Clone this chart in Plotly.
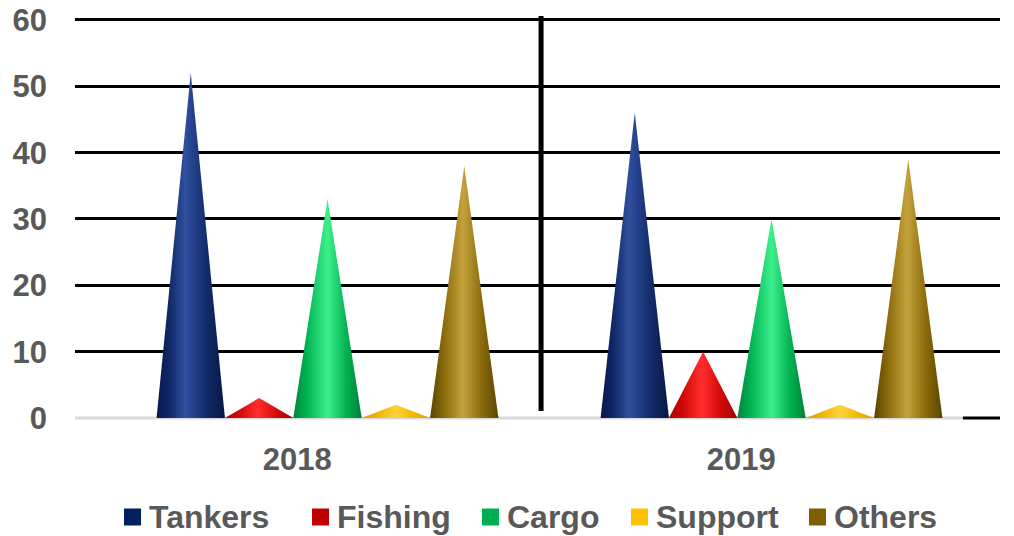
import plotly.graph_objects as go

categories = ["2018", "2019"]
series_names = ["Tankers", "Fishing", "Cargo", "Support", "Others"]
tankers = [52, 46]
fishing = [3, 10]
cargo = [33, 30]
support = [2, 2]
others = [38, 39]
y_ticks = [0, 10, 20, 30, 40, 50, 60]

series_values = [tankers, fishing, cargo, support, others]
legend_colors = ["#002060", "#C00000", "#00B050", "#FFC000", "#7F6000"]
cone_scales = [
    [[0, "#07184a"], [0.18, "#0f2766"], [0.42, "#2f4f9f"], [0.72, "#132d6c"], [1, "#061744"]],
    [[0, "#a80000"], [0.2, "#d00808"], [0.48, "#ff2e2e"], [0.75, "#d40a0a"], [1, "#a00000"]],
    [[0, "#00853a"], [0.2, "#00b452"], [0.5, "#3ef08c"], [0.78, "#00b050"], [1, "#00803a"]],
    [[0, "#d9a000"], [0.25, "#f0b800"], [0.5, "#ffd23c"], [0.75, "#f2bb00"], [1, "#d8a000"]],
    [[0, "#5a4300"], [0.2, "#8a6a0a"], [0.48, "#c4a23c"], [0.75, "#8c6c0c"], [1, "#5c4400"]],
]

n = len(series_names)
step = 0.154          # spacing between cones, in category units
half = step / 2       # half width of a cone base
label_shift = -0.068  # category label offset

fig = go.Figure()

for j, (name, vals) in enumerate(zip(series_names, series_values)):
    for i, v in enumerate(vals):
        c = i + (j - (n - 1) / 2) * step
        fig.add_trace(go.Scatter(
            x=[c - half, c, c + half, c - half],
            y=[0, v, 0, 0],
            mode="lines",
            fill="toself",
            line=dict(width=0),
            fillgradient=dict(type="horizontal", colorscale=cone_scales[j]),
            name=name,
            legendgroup=name,
            showlegend=False,
            hoverinfo="skip",
        ))

xmin, xmax = -0.5687, 1.5146
sep_x = 0.481
axis_end = 1.431
end_frac = (axis_end - xmin) / (xmax - xmin)

# separator between years
fig.add_shape(type="line", xref="x", yref="y", x0=sep_x, x1=sep_x, y0=1.05, y1=60.6,
              line=dict(color="black", width=5), layer="above")
# grey category axis line, black tail (paper refs so they are not clipped)
fig.add_shape(type="line", xref="paper", yref="paper", x0=0, x1=end_frac, y0=0, y1=0,
              line=dict(color="#D9D9D9", width=3), layer="between")
fig.add_shape(type="line", xref="paper", yref="paper", x0=end_frac, x1=1, y0=0, y1=0,
              line=dict(color="black", width=3), layer="above")

text_color = "#595959"
font_family = "Liberation Sans, Arial, sans-serif"

# legend (drawn as keys + text), pixel layout converted to paper units
W, H = 1014, 536
ml, mr, mt, mb = 75, 14, 16, 118
pw, ph = W - ml - mr, H - mt - mb
def px_x(p):
    return (p - ml) / pw
def px_y(p):
    return (H - mb - p) / ph

legend_key_x = [124, 312, 482, 631, 809]
legend_cy = 517
key = 17
for j, name in enumerate(series_names):
    x0 = legend_key_x[j]
    fig.add_shape(type="rect", xref="paper", yref="paper",
                  x0=px_x(x0), x1=px_x(x0 + key),
                  y0=px_y(legend_cy + key / 2), y1=px_y(legend_cy - key / 2),
                  fillcolor=legend_colors[j], line=dict(width=0))
    fig.add_annotation(xref="paper", yref="paper", x=px_x(x0 + key + 7), y=px_y(legend_cy),
                       xanchor="left", yanchor="middle", text=name, showarrow=False,
                       font=dict(family=font_family, size=32, color=text_color, weight="bold"),
                       borderpad=0)

fig.update_layout(
    width=W, height=H,
    margin=dict(l=ml, r=mr, t=mt, b=mb, autoexpand=False),
    paper_bgcolor="white", plot_bgcolor="white",
    showlegend=False,
    xaxis=dict(range=[xmin, xmax], showgrid=False, zeroline=False, showline=False, automargin=False,
               tickvals=[i + label_shift for i in range(len(categories))], ticktext=categories,
               tickfont=dict(family=font_family, size=31, color=text_color, weight="bold"),
               ticks="", ticklabelstandoff=20, fixedrange=True),
    yaxis=dict(range=[0, 60.6], tickvals=y_ticks, showgrid=True, gridcolor="black", gridwidth=2.5,
               zeroline=False, showline=False, ticks="", automargin=False,
               tickfont=dict(family=font_family, size=31, color=text_color, weight="bold"),
               ticklabelstandoff=27, fixedrange=True),
)

fig.write_html("out.html")
